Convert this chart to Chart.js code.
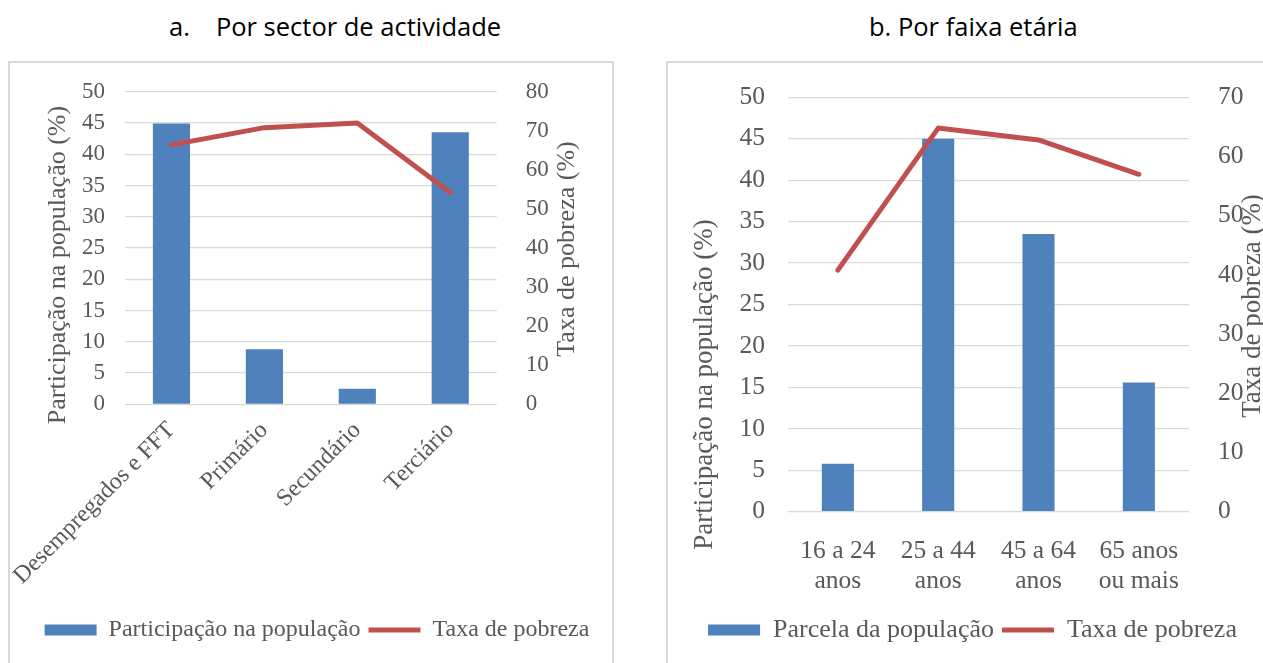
<!DOCTYPE html>
<html>
<head>
<meta charset="utf-8">
<script src="https://cdn.jsdelivr.net/npm/chart.js@4.4.0/dist/chart.umd.min.js"></script>
<style>
  html, body { margin: 0; padding: 0; background: #fff; overflow: hidden; width: 1263px; height: 663px; }
  .panel { position: absolute; border: 2px solid #d9d9d9; box-sizing: border-box; }
  .title { position: absolute; font-family: "Open Sans", sans-serif; font-size: 25.5px; color: #000; white-space: pre; }
  canvas { position: absolute; }
</style>
</head>
<body>
<div class="title" style="left:169px; top:9px">a.<span style="margin-left:26px">Por sector de actividade</span></div>
<div class="title" style="left:869px; top:9px">b. Por faixa etária</div>
<div class="panel" style="left:8px; top:61px; width:606px; height:700px"></div>
<div class="panel" style="left:666px; top:61px; width:700px; height:700px"></div>
<canvas id="chartA" width="604" height="600" style="left:9px; top:63px"></canvas>
<canvas id="chartB" width="611" height="600" style="left:667px; top:63px"></canvas>
<script>
// ── Data ─────────────────────────────────────────
const sectorLabels = ['Desempregados e FFT', 'Primário', 'Secundário', 'Terciário'];
const sectorShare = [44.9, 8.8, 2.5, 43.5];
const sectorPoverty = [66.4, 70.8, 72.0, 54.2];

const ageLabels = [['16 a 24', 'anos'], ['25 a 44', 'anos'], ['45 a 64', 'anos'], ['65 anos', 'ou mais']];
const ageShare = [5.8, 45.0, 33.5, 15.6];
const agePoverty = [40.8, 64.8, 62.8, 57.0];

const BAR_COLOR = '#4f81bd';
const LINE_COLOR = '#c0504d';
const TEXT_COLOR = '#595959';
const GRID_COLOR = '#d9d9d9';
const SERIF = '"Liberation Serif", "Times New Roman", serif';

Chart.defaults.animation = false;
Chart.defaults.font.family = SERIF;
Chart.defaults.color = TEXT_COLOR;

// Titulos dos eixos desenhados a mao (posicao livre)
function axisTitlesPlugin(items, size) {
    return {
        id: 'axisTitles',
        afterDraw(chart) {
            const ctx = chart.ctx;
            ctx.save();
            ctx.fillStyle = TEXT_COLOR;
            ctx.font = `${size}px ${SERIF}`;
            ctx.textAlign = 'center';
            ctx.textBaseline = 'middle';
            items.forEach((t) => {
                ctx.save();
                ctx.translate(t.x, t.y);
                ctx.rotate(-Math.PI / 2);
                ctx.fillText(t.text, 0, 0);
                ctx.restore();
            });
            ctx.restore();
        }
    };
}

function buildChart(id, cfg) {
    const ctx = document.getElementById(id).getContext('2d');
    return new Chart(ctx, {
        type: 'bar',
        data: {
            labels: cfg.labels,
            datasets: [{
                type: 'bar',
                label: cfg.barLabel,
                data: cfg.share,
                backgroundColor: BAR_COLOR,
                borderWidth: 0,
                barPercentage: cfg.barPct,
                categoryPercentage: 1,
                pointStyle: 'rect',
                yAxisID: 'y',
                order: 1
            }, {
                type: 'line',
                label: 'Taxa de pobreza',
                data: cfg.poverty,
                borderColor: LINE_COLOR,
                backgroundColor: LINE_COLOR,
                borderWidth: 5,
                borderCapStyle: 'round',
                borderJoinStyle: 'round',
                pointRadius: 0,
                pointStyle: 'line',
                tension: 0,
                yAxisID: 'y1',
                order: 0
            }]
        },
        options: {
            responsive: false,
            layout: { padding: cfg.padding },
            scales: {
                x: {
                    grid: { display: false },
                    border: { display: false },
                    ticks: {
                        font: { size: cfg.xTickSize },
                        padding: cfg.xPad,
                        autoSkip: false,
                        minRotation: cfg.rot,
                        maxRotation: cfg.rot
                    },
                    afterFit: (s) => {
                        s.height = cfg.xHeight;
                        s.paddingLeft = 0;
                        s.paddingRight = 0;
                    }
                },
                y: {
                    position: 'left',
                    min: 0, max: 50,
                    grid: { color: GRID_COLOR, lineWidth: 1.3, drawTicks: false },
                    border: { display: false },
                    ticks: { stepSize: 5, font: { size: cfg.tickSize }, padding: cfg.yPadL },
                    afterFit: (s) => {
                        s.width = cfg.leftW;
                        s.paddingTop = 0;
                        s.paddingBottom = 0;
                    }
                },
                y1: {
                    position: 'right',
                    min: 0, max: cfg.rightMax,
                    grid: { display: false },
                    border: { display: false },
                    ticks: { stepSize: 10, font: { size: cfg.tickSize }, padding: cfg.yPadR },
                    afterFit: (s) => {
                        s.width = cfg.rightW;
                        s.paddingTop = 0;
                        s.paddingBottom = 0;
                    }
                }
            },
            plugins: {
                tooltip: { enabled: false },
                legend: {
                    position: 'bottom',
                    labels: {
                        usePointStyle: true,
                        pointStyleWidth: 52,
                        boxHeight: 11,
                        padding: 8,
                        color: TEXT_COLOR,
                        font: { size: cfg.legendSize },
                        sort: (a, b) => a.datasetIndex - b.datasetIndex
                    }
                }
            }
        },
        plugins: [axisTitlesPlugin(cfg.titles, cfg.titleSize)]
    });
}

// ── a. Por sector de actividade ──────────────────
buildChart('chartA', {
    labels: sectorLabels,
    share: sectorShare,
    poverty: sectorPoverty,
    barLabel: 'Participação na população',
    barPct: 0.4,
    rightMax: 80,
    tickSize: 23,
    xTickSize: 24,
    legendSize: 24,
    titleSize: 26,
    rot: 45,
    xPad: 4,
    xHeight: 205.7,
    leftW: 104,
    rightW: 116.3,
    yPadL: 20,
    yPadR: 21,
    padding: { top: 28.7, bottom: 11, left: 12, right: 0 },
    titles: [
        { text: 'Participação na população (%)', x: 49, y: 202 },
        { text: 'Taxa de pobreza (%)', x: 557.7, y: 186 }
    ]
});

// ── b. Por faixa etária ──────────────────────────
buildChart('chartB', {
    labels: ageLabels,
    share: ageShare,
    poverty: agePoverty,
    barLabel: 'Parcela da população',
    barPct: 0.32,
    rightMax: 70,
    tickSize: 25.5,
    xTickSize: 25.5,
    legendSize: 26,
    titleSize: 27,
    rot: 0,
    xPad: 16,
    xHeight: 97.3,
    leftW: 120.7,
    rightW: 89,
    yPadL: 22.7,
    yPadR: 21,
    padding: { top: 34.3, bottom: 10, left: 0, right: 0 },
    titles: [
        { text: 'Participação na população (%)', x: 38, y: 321.5 },
        { text: 'Taxa de pobreza (%)', x: 586, y: 243 }
    ]
});
</script>
</body>
</html>
